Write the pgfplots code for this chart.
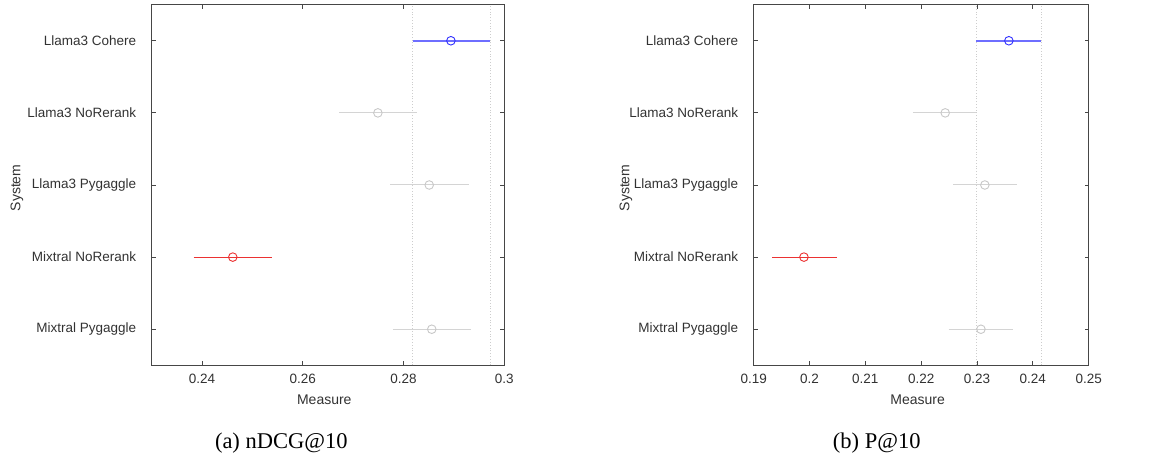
\documentclass[border=0pt]{standalone}
\usepackage{pgfplots}
\pgfplotsset{compat=1.18}
\usepackage{fontspec}
\setmainfont{Liberation Sans}
\newfontfamily\capfont{Liberation Serif}
\definecolor{cFrame}{RGB}{70,70,70}
\definecolor{cText}{RGB}{50,50,50}
\definecolor{cBlueLine}{RGB}{110,110,255}
\definecolor{cBlueMark}{RGB}{50,50,255}
\definecolor{cRed}{RGB}{235,50,50}
\definecolor{cGrayLine}{RGB}{212,212,212}
\definecolor{cGrayMark}{RGB}{200,200,200}
\definecolor{cDot}{RGB}{205,205,205}
\pgfplotsset{ci/.style={
  scale only axis, height=360.6pt, ymin=-0.5, ymax=4.5,
  ytick={0,1,2,3,4},
  yticklabels={Mixtral Pygaggle, Mixtral NoRerank, Llama3 Pygaggle, Llama3 NoRerank, Llama3 Cohere},
  axis line style={cFrame, line width=0.8pt},
  tick style={cFrame, line width=0.8pt},
  major tick length=4pt,
  tick align=inside,
  ticklabel style={font=\fontsize{13.5}{16}\selectfont, text=cText},
  yticklabel style={xshift=-12pt},
  xticklabel style={yshift=-5pt},
},
ebb/.style={color=cBlueLine, line width=2pt},
ebr/.style={color=cRed, line width=1.2pt},
ebg/.style={color=cGrayLine, line width=1pt},
mb/.style={only marks, mark=o, mark size=4.3pt, color=cBlueMark, mark options={line width=0.9pt}},
mr/.style={only marks, mark=o, mark size=4.3pt, color=cRed, mark options={line width=0.9pt}},
mg/.style={only marks, mark=o, mark size=4.3pt, color=cGrayMark, mark options={line width=0.9pt}},
vd/.style={color=cDot, dotted, line width=0.8pt},
}
\begin{document}
\begin{tikzpicture}
\path (-151.7pt,-96.7pt) rectangle (1018.3pt,365.3pt);
% (a) nDCG@10
\begin{axis}[ci, at={(0pt,0pt)}, anchor=south west, width=352.6pt,
  xmin=0.23, xmax=0.30, xtick={0.24,0.26,0.28,0.30},
  xticklabels={0.24,0.26,0.28,0.3}]
\addplot[vd] coordinates {(0.2818,-0.5) (0.2818,4.5)};
\addplot[vd] coordinates {(0.2972,-0.5) (0.2972,4.5)};
\addplot[ebb] coordinates {(0.2818,4) (0.2972,4)};
\addplot[mb] coordinates {(0.2894,4)};
\addplot[ebg] coordinates {(0.2672,3) (0.2827,3)};
\addplot[mg] coordinates {(0.2749,3)};
\addplot[ebg] coordinates {(0.2774,2) (0.2930,2)};
\addplot[mg] coordinates {(0.2851,2)};
\addplot[ebr] coordinates {(0.2383,1) (0.2538,1)};
\addplot[mr] coordinates {(0.2461,1)};
\addplot[ebg] coordinates {(0.2779,0) (0.2934,0)};
\addplot[mg] coordinates {(0.2856,0)};
\end{axis}
% (b) P@10
\begin{axis}[ci, at={(602pt,0pt)}, anchor=south west, width=335pt,
  xmin=0.19, xmax=0.25, xtick={0.19,0.20,0.21,0.22,0.23,0.24,0.25},
  xticklabels={0.19,0.2,0.21,0.22,0.23,0.24,0.25}]
\addplot[vd] coordinates {(0.2299,-0.5) (0.2299,4.5)};
\addplot[vd] coordinates {(0.2415,-0.5) (0.2415,4.5)};
\addplot[ebb] coordinates {(0.2299,4) (0.2415,4)};
\addplot[mb] coordinates {(0.2357,4)};
\addplot[ebg] coordinates {(0.2185,3) (0.2299,3)};
\addplot[mg] coordinates {(0.2243,3)};
\addplot[ebg] coordinates {(0.2257,2) (0.2372,2)};
\addplot[mg] coordinates {(0.2314,2)};
\addplot[ebr] coordinates {(0.1933,1) (0.2049,1)};
\addplot[mr] coordinates {(0.1990,1)};
\addplot[ebg] coordinates {(0.2249,0) (0.2365,0)};
\addplot[mg] coordinates {(0.2307,0)};
\end{axis}
\node[font=\fontsize{14}{16}\selectfont, text=cText] at (172.6pt,-34.7pt) {Measure};
\node[font=\fontsize{14}{16}\selectfont, text=cText] at (766pt,-34.7pt) {Measure};
\node[font=\fontsize{14}{16}\selectfont, text=cText, rotate=90] at (-134.7pt,177.3pt) {System};
\node[font=\fontsize{14}{16}\selectfont, text=cText, rotate=90] at (474.3pt,177.3pt) {System};
\node[font=\capfont\fontsize{22.5}{26}\selectfont] at (129.6pt,-77.7pt) {(a) nDCG@10};
\node[font=\capfont\fontsize{22.5}{26}\selectfont] at (725pt,-77.7pt) {(b) P@10};
\end{tikzpicture}
\end{document}
